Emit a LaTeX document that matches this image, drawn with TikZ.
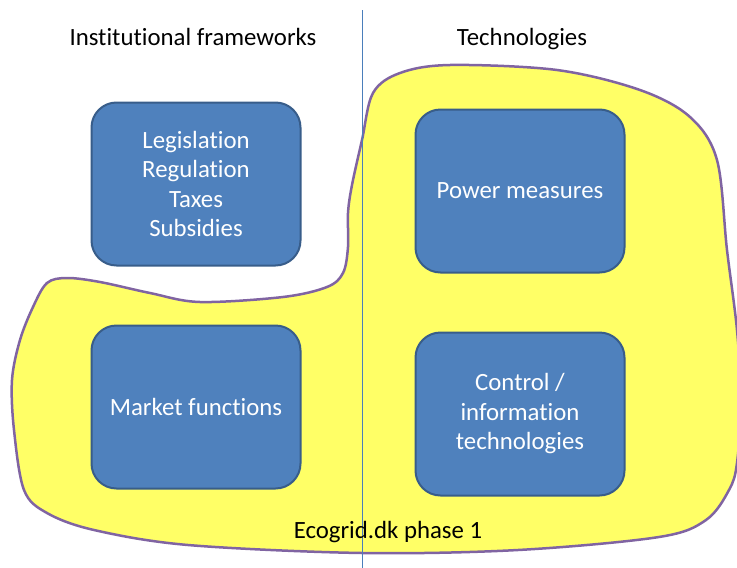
\documentclass[tikz,border=0pt]{standalone}
\usepackage{fontspec}
\setmainfont{Carlito}[Ligatures={NoCommon}]
\definecolor{boxfill}{HTML}{4F81BD}
\definecolor{boxline}{HTML}{385D8A}
\definecolor{blobfill}{HTML}{FFFF66}
\definecolor{blobline}{HTML}{8064A2}
\definecolor{divline}{HTML}{4A7EBB}
\begin{document}
\begin{tikzpicture}[x=1pt,y=-1pt,
    block/.style={draw=boxline,line width=2pt,fill=boxfill,rounded corners=25pt,
      minimum width=209pt,minimum height=163pt,text=white,align=center,
      font=\fontsize{24.8}{29.5}\selectfont},
    heading/.style={anchor=base,font=\fontsize{24.8}{29.5}\selectfont}]
      \useasboundingbox (0,0) rectangle (737,568);
      \draw[blobline,line width=2.5pt,fill=blobfill]
        plot[smooth cycle,tension=0.55] coordinates {
          (400,73) (450,65) (557,70) (640,90) (690,117) (717,160) (727,250)
          (737,330) (741,400) (737,463) (729,490) (706,520) (659,537)
          (518,550) (362,553) (188,545) (94,530) (47,513) (24,490) (14,430)
          (12,380) (20,340) (33,307) (47,283) (67,278) (100,282) (150,293)
          (200,302) (283,297) (327,287) (343,273) (348,247) (348,213)
          (352,185) (362,140) (373,93)};
      \coordinate (top) at (362,10);
      \coordinate (bot) at (362,568);
      \draw[divline,line width=0.8pt] (top) -- (bot);
      \draw
        (193,45) node[heading] (inst) {Institutional frameworks}
        (522,45) node[heading] (tech) {Technologies}
        (196,184) node[block] (leg) {Legislation\\Regulation\\Taxes\\Subsidies}
        (520,191) node[block] (pow) {Power measures}
        (196,407) node[block] (mkt) {Market functions}
        (520,414) node[block] (ctl) {Control /\\information\\technologies}
        (388,538) node[heading] (eco) {Ecogrid.dk phase 1};
    \end{tikzpicture}
\end{document}
